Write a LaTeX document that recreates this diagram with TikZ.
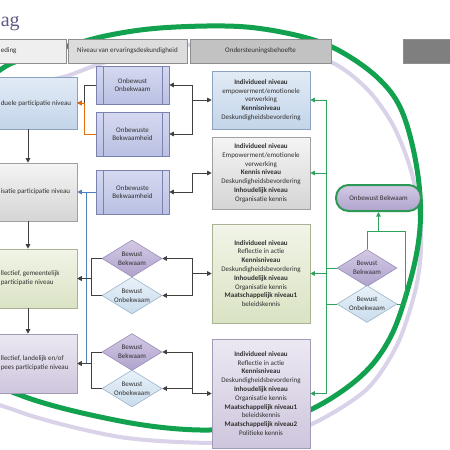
\documentclass[tikz,border=0pt]{standalone}
\usepackage{fontspec}
\setmainfont{Carlito}
\newfontfamily\titlefont{Liberation Serif}
\usetikzlibrary{shapes.geometric,arrows.meta}
\definecolor{txt}{HTML}{303030}
\definecolor{arrc}{HTML}{404040}
\definecolor{grn}{HTML}{12A24F}
\definecolor{grnln}{HTML}{2EA35C}
\definecolor{lav}{HTML}{D9D2E8}
\definecolor{orng}{HTML}{E46C0A}
\definecolor{blu}{HTML}{4F81BD}
\definecolor{titlec}{HTML}{5E5A86}
\definecolor{bTop}{HTML}{E2EBF5}\definecolor{bBot}{HTML}{C3D5EA}\definecolor{bBd}{HTML}{8CA2BF}
\definecolor{gTop}{HTML}{F4F4F4}\definecolor{gBot}{HTML}{D5D5D5}\definecolor{gBd}{HTML}{A0A0A0}
\definecolor{oTop}{HTML}{F1F4E7}\definecolor{oBot}{HTML}{DAE3C4}\definecolor{oBd}{HTML}{A8B393}
\definecolor{lTop}{HTML}{ECE8F2}\definecolor{lBot}{HTML}{CEC6DD}\definecolor{lBd}{HTML}{A39BB5}
\definecolor{mTop}{HTML}{D5D9F0}\definecolor{mBot}{HTML}{BAC0E3}\definecolor{mBd}{HTML}{7A82B0}
\definecolor{pTop}{HTML}{D2C9E4}\definecolor{pBot}{HTML}{B0A3CD}\definecolor{pBd}{HTML}{9A8DB8}
\definecolor{cTop}{HTML}{E8F1F9}\definecolor{cBot}{HTML}{C9DCEC}\definecolor{cBd}{HTML}{9CB3C9}
\definecolor{h1c}{HTML}{EFEFEF}\definecolor{h2c}{HTML}{DCDCDC}\definecolor{h3c}{HTML}{C2C2C2}\definecolor{h4c}{HTML}{7F7F7F}\definecolor{hBd}{HTML}{8E8E8E}
\definecolor{pillBd}{HTML}{2C9A56}
\begin{document}
\begin{tikzpicture}[x=1pt,y=-1pt,
 every node/.style={font=\fontsize{7}{8.8}\selectfont, text=txt},
 box/.style={draw, line width=0.6pt, inner sep=0pt, align=center, minimum width=98pt},
 bluebox/.style={box, top color=bTop, bottom color=bBot, draw=bBd},
 greybox/.style={box, top color=gTop, bottom color=gBot, draw=gBd},
 olivebox/.style={box, top color=oTop, bottom color=oBot, draw=oBd},
 lavbox/.style={box, top color=lTop, bottom color=lBot, draw=lBd},
 lefttext/.style={anchor=west, inner sep=0pt, align=left},
 hdr/.style={draw=hBd, line width=0.6pt, minimum height=24pt, inner sep=0pt},
 proc/.style={draw=mBd, line width=0.6pt, top color=mTop, bottom color=mBot, minimum width=73pt, align=center, inner sep=0pt,
   path picture={\draw[mBd, line width=0.6pt]
     ([xshift=7pt]path picture bounding box.north west) -- ([xshift=7pt]path picture bounding box.south west)
     ([xshift=-7pt]path picture bounding box.north east) -- ([xshift=-7pt]path picture bounding box.south east);}},
 dia/.style={diamond, aspect=1.6, minimum width=60pt, minimum height=37pt, inner sep=0pt, line width=0.6pt, align=center},
 pdia/.style={dia, draw=pBd, top color=pTop, bottom color=pBot},
 cdia/.style={dia, draw=cBd, top color=cTop, bottom color=cBot},
 arr/.style={draw=arrc, line width=0.8pt, -{Triangle[length=4.5pt,width=4.5pt]}},
 garr/.style={draw=grnln, line width=0.8pt, -{Triangle[length=4.5pt,width=4.5pt]}},
 gln/.style={draw=grnln, line width=0.8pt},
 bln/.style={draw=blu, line width=0.8pt}
]
\useasboundingbox (0,0) rectangle (450,450);
\clip (0,0) rectangle (450,450);
\fill[white] (0,0) rectangle (450,450);

% background arcs
\draw[lav, line width=4pt] plot[smooth cycle, tension=0.5] coordinates {
 (-70,140) (0,92) (40,82) (67,76) (97,65) (150,50) (225,42) (275,45) (333,63) (368,90) (393,125)
 (410,167) (419,210) (421,250) (415,292) (397,345) (366,390) (310,425) (260,438) (213,443)
 (120,437) (20,412) (-50,375) (-80,260)};
\draw[grn, line width=5pt] plot[smooth cycle, tension=0.6] coordinates {
 (-70,130) (0,70) (35,57) (68,46) (110,35) (160,28) (225,26) (270,30) (317,41) (350,57) (380,80)
 (400,107) (413,148) (420,195) (419,238) (409,285) (390,338) (360,377) (310,410) (260,424)
 (200,430) (120,421) (20,395) (-50,355) (-80,250)};

% title
\node[font=\titlefont\fontsize{20}{20}\selectfont, text=titlec, anchor=base west, inner sep=0pt] (T) at (0.6,26) {ag};

% header
\node[hdr, fill=h1c, minimum width=87pt] (H1) at (22.5,51) {};
\node[lefttext] (H1t) at (0.6,51) {eding};
\node[hdr, fill=h2c, minimum width=119pt] (H2) at (127.5,51) {Niveau van ervaringsdeskundigheid};
\node[hdr, fill=h3c, minimum width=141pt] (H3) at (260.5,51) {Ondersteuningsbehoefte};
\node[hdr, fill=h4c, minimum width=60pt] (H4) at (433,51) {};

% left column
\node[bluebox, minimum height=52pt] (L1) at (28,103) {};
\node[lefttext] (L1t) at (0.6,104) {duele participatie niveau};
\node[greybox, minimum height=58pt] (L2) at (28,192) {};
\node[lefttext] (L2t) at (0.6,192) {isatie participatie niveau};
\node[olivebox, minimum height=59pt] (L3) at (28,278.5) {};
\node[lefttext] (L3t) at (0.6,278.5) {llectief, gemeentelijk\\participatie niveau};
\node[lavbox, minimum height=59pt] (L4) at (28,363.5) {};
\node[lefttext] (L4t) at (0.6,363.5) {llectief, landelijk en/of\\pees participatie niveau};

% middle column
\node[proc, minimum height=38pt] (M1) at (132.5,85) {Onbewust\\Onbekwaam};
\node[proc, minimum height=44pt] (M2) at (132.5,134) {Onbewuste\\Bekwaamheid};
\node[proc, minimum height=44pt] (M3) at (132.5,192) {Onbewuste\\Bekwaamheid};
\node[pdia] (D1) at (132,258.5) {Bewust\\Bekwaam};
\node[cdia] (D2) at (132,295.5) {Bewust\\Onbekwaam};
\node[pdia] (D3) at (132,352) {Bewust\\Bekwaam};
\node[cdia] (D4) at (132,388.5) {Bewust\\Onbekwaam};

% right column
\node[bluebox, minimum height=58pt] (R1) at (261,100) {\textbf{Individueel niveau}\\empowerment/emotionele\\verwerking\\\textbf{Kennisniveau}\\Deskundigheidsbevordering};
\node[greybox, minimum height=72pt] (R2) at (261,173) {\textbf{Individueel niveau}\\Empowerment/emotionele\\verwerking\\\textbf{Kennis niveau}\\Deskundigheidsbevordering\\\textbf{Inhoudelijk niveau}\\Organisatie kennis};
\node[olivebox, minimum height=99pt] (R3) at (261,273.5) {\textbf{Individueel niveau}\\Reflectie in actie\\\textbf{Kennisniveau}\\Deskundigheidsbevordering\\\textbf{Inhoudelijk niveau}\\Organisatie kennis\\\textbf{Maatschappelijk niveau1}\\beleidskennis};
\node[lavbox, minimum height=109pt] (R4) at (261,393.5) {\textbf{Individueel niveau}\\Reflectie in actie\\\textbf{Kennisniveau}\\Deskundigheidsbevordering\\\textbf{Inhoudelijk niveau}\\Organisatie kennis\\\textbf{Maatschappelijk niveau1}\\beleidskennis\\\textbf{Maatschappelijk niveau2}\\Politieke kennis};

% far right
\node[draw=pillBd, line width=2pt, rounded corners=12.5pt, top color=pTop, bottom color=pBot, minimum width=85pt, minimum height=26pt, inner sep=0pt] (P) at (378.5,198) {Onbewust Bekwaam};
\node[pdia] (D5) at (367,268) {Bewust\\Bekwaam};
\node[cdia] (D6) at (367,304) {Bewust\\Onbekwaam};

% left vertical arrows
\draw[arr] (L1.south) -- (L2.north);
\draw[arr] (L2.south) -- (L3.north);
\draw[arr] (L3.south) -- (L4.north);

% middle -> left
\draw[arr] (M1.west) -- ++(-11,0) |- (L1.east);
\draw[arr, draw=orng] (M2.west) -- ++(-11,0) |- (L1.east);
\coordinate (bj) at (86,363.5);
\draw[bln] (M3.west -| bj) -- (bj);
\draw[arr, draw=blu] (M3.west) -- (L2.east);
\draw[arr] (D1.west) -- ++(-10,0) |- (L3.east);
\draw[arr] (D2.west) -- ++(-10,0) |- (L3.east);
\draw[arr] (D3.west) -- ++(-10,0) |- (L4.east);
\draw[arr] (D4.west) -- ++(-10,0) |- (L4.east);

% right -> middle
\path (R1.west) ++(-19,0) coordinate (j1);
\path (R2.west) ++(-19,0) coordinate (j2);
\path (R3.west) ++(-19,0) coordinate (j3);
\path (R4.west) ++(-19,0) coordinate (j4);
\draw[arr] (j1) -- (R1.west);
\draw[arr] (j1) |- (M1.east);
\draw[arr] (j1) |- (M2.east);
\draw[arr] (j2) -- (R2.west);
\draw[arr] (j2) |- (M3.east);
\draw[arr] (j3) -- (R3.west);
\draw[arr] (j3) |- (D1.east);
\draw[arr] (j3) |- (D2.east);
\draw[arr] (j4) -- (R4.west);
\draw[arr] (j4) |- (D3.east);
\draw[arr] (j4) |- (D4.east);

% green connectors
\path (R1.east) ++(16,0) coordinate (g1);
\path (R4.east) ++(16,0) coordinate (g4);
\draw[gln] (g1) -- (g4);
\draw[garr] (g1) -- (R1.east);
\draw[garr] (R2.east -| g1) -- (R2.east);
\draw[garr] (R3.east -| g1) -- (R3.east);
\draw[garr] (g4) -- (R4.east);
\draw[gln] (D5.west) -- (D5.west -| g1);
\draw[gln] (D6.west) -- (D6.west -| g1);
\path (P.south) ++(0,19) coordinate (gj);
\path (gj) ++(26.5,0) coordinate (gk);
\draw[garr] (gj) -- (P.south);
\draw[gln] (D5.north) |- (gj);
\draw[gln] (D6.east) -| (gk) -- (gj);
\end{tikzpicture}
\end{document}
